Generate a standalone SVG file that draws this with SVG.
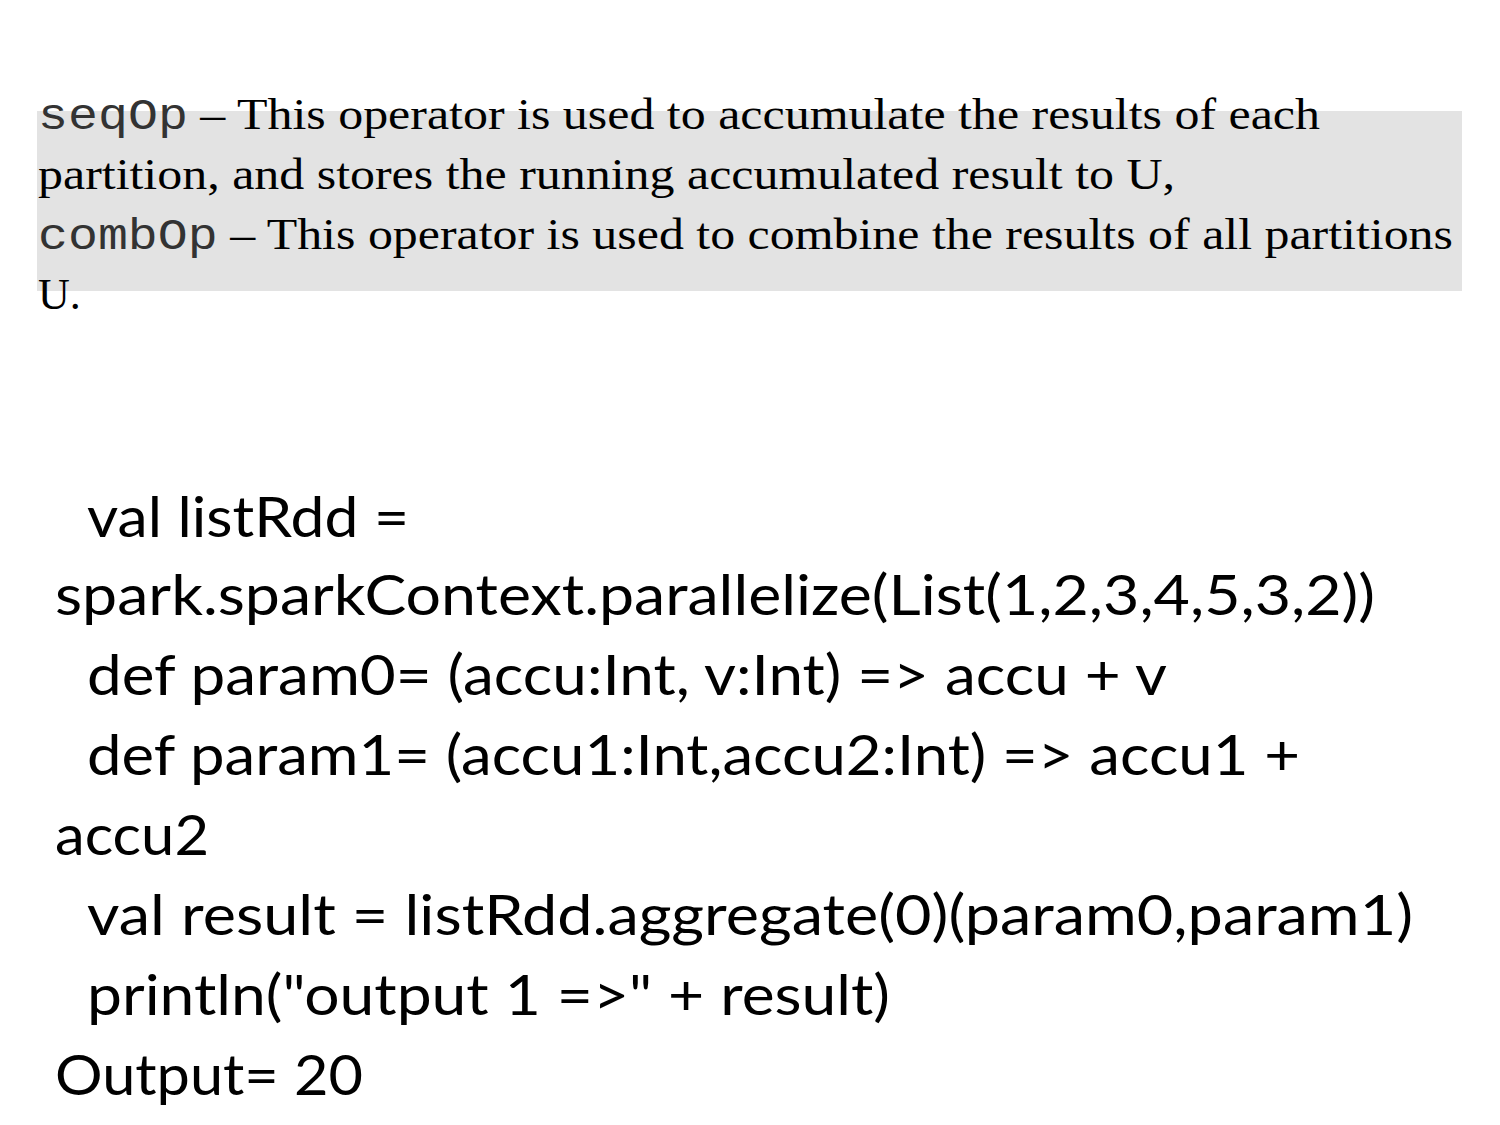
<svg xmlns="http://www.w3.org/2000/svg" width="1500" height="1125" viewBox="0 0 1500 1125">
<style>
.s{font-family:"Liberation Serif",serif;font-size:44px;fill:#000}
.m{font-family:"Liberation Mono",monospace;fill:#333}
.c{font-family:Lato,"Liberation Sans",sans-serif;font-size:56px;fill:#000}
</style>
<rect width="1500" height="1125" fill="#fff"/>
<rect x="37" y="111" width="1425" height="180" fill="#e3e3e3"/>
<g id="desc">
<text class="s" x="38" y="129" textLength="1282" lengthAdjust="spacingAndGlyphs"><tspan class="m">seqOp</tspan> – This operator is used to accumulate the results of each</text>
<text class="s" x="38" y="189" textLength="1137" lengthAdjust="spacingAndGlyphs">partition, and stores the running accumulated result to U,</text>
<text class="s" x="38" y="249" textLength="1415" lengthAdjust="spacingAndGlyphs"><tspan class="m">combOp</tspan> – This operator is used to combine the results of all partitions</text>
<text class="s" x="38" y="309">U.</text>
</g>
<g id="code">
<text class="c" x="87" y="537" textLength="322" lengthAdjust="spacingAndGlyphs">val listRdd =</text>
<text class="c" x="55" y="615" textLength="1320" lengthAdjust="spacingAndGlyphs">spark.sparkContext.parallelize(List(1,2,3,4,5,3,2))</text>
<text class="c" x="87" y="695" textLength="1080" lengthAdjust="spacingAndGlyphs">def param0= (accu:Int, v:Int) =&gt; accu + v</text>
<text class="c" x="87" y="775" textLength="1213" lengthAdjust="spacingAndGlyphs">def param1= (accu1:Int,accu2:Int) =&gt; accu1 +</text>
<text class="c" x="55" y="855" textLength="154" lengthAdjust="spacingAndGlyphs">accu2</text>
<text class="c" x="87" y="935" textLength="1326" lengthAdjust="spacingAndGlyphs">val result = listRdd.aggregate(0)(param0,param1)</text>
<text class="c" x="87" y="1015" textLength="803" lengthAdjust="spacingAndGlyphs">println("output 1 =&gt;" + result)</text>
<text class="c" x="55" y="1095" textLength="308" lengthAdjust="spacingAndGlyphs">Output= 20</text>
</g>
</svg>
